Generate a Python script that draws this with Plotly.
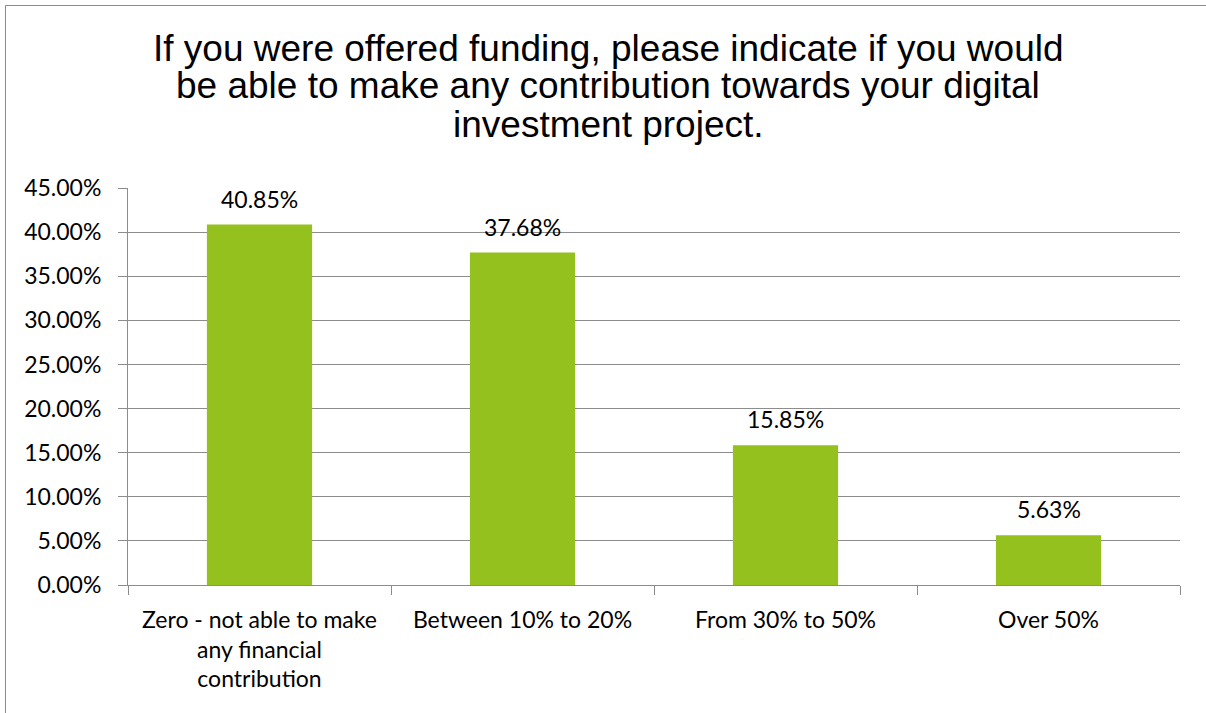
import plotly.graph_objects as go

# Survey responses: share of respondents per contribution level
categories = [
    "Zero - not able to make<br>any financial<br>contribution",
    "Between 10% to 20%",
    "From 30% to 50%",
    "Over 50%",
]
shares = [40.85, 37.68, 15.85, 5.63]
y_ticks = [0, 5, 10, 15, 20, 25, 30, 35, 40, 45]
title_lines = [
    "If you were offered funding, please indicate if you would",
    "be able to make any contribution towards your digital",
    "investment project.",
]

W, H = 1206, 713
L, R, T, B = 128, 26, 188, 128
PW, PH = W - L - R, H - T - B

BAR = "#95C11F"
GRID = "#8c8c8c"
LABEL_FONT = dict(family="Lato, Carlito, Calibri, sans-serif", size=23, color="#000000")


def px_to_paper_x(px):
    return (px - L) / PW


def px_to_paper_y(py):
    return (H - B - py) / PH


fig = go.Figure(
    go.Bar(
        x=categories,
        y=shares,
        marker=dict(color=BAR, line=dict(width=0)),
        hoverinfo="x+y",
    )
)

# value labels above each bar
annotations = []
for cat, v in zip(categories, shares):
    annotations.append(
        dict(
            x=cat, y=v, xref="x", yref="y",
            text=f"{v:.2f}%",
            showarrow=False,
            yanchor="bottom",
            yshift=10,
            font=LABEL_FONT,
        )
    )

# three-line chart title with tight line spacing
title_centers = [48, 86, 124]
for line, cy in zip(title_lines, title_centers):
    annotations.append(
        dict(
            x=px_to_paper_x(608), y=px_to_paper_y(cy),
            xref="paper", yref="paper",
            text=line,
            showarrow=False,
            xanchor="center", yanchor="middle",
            font=dict(family="Liberation Sans, Arial, sans-serif", size=37, color="#000000"),
        )
    )

# chart-area border
shapes = [
    dict(
        type="rect", xref="paper", yref="paper",
        x0=px_to_paper_x(5.5), x1=px_to_paper_x(1215),
        y0=px_to_paper_y(725), y1=px_to_paper_y(5.5),
        line=dict(color=GRID, width=1),
        fillcolor="rgba(0,0,0,0)",
        layer="below",
    )
]

fig.update_layout(
    width=W, height=H,
    margin=dict(l=L, r=R, t=T, b=B, pad=0),
    paper_bgcolor="#ffffff",
    plot_bgcolor="#ffffff",
    bargap=0.6,
    showlegend=False,
    annotations=annotations,
    shapes=shapes,
)

fig.update_xaxes(
    type="category",
    tickson="boundaries",
    ticks="outside",
    ticklen=9,
    tickcolor=GRID,
    showline=True,
    linecolor=GRID,
    linewidth=1,
    showgrid=False,
    tickfont=LABEL_FONT,
    ticklabelstandoff=14,
)

fig.update_yaxes(
    range=[0, 45],
    tickvals=y_ticks,
    ticktext=[f"{t:.2f}%" for t in y_ticks],
    ticks="outside",
    ticklen=9,
    tickcolor=GRID,
    showline=True,
    linecolor=GRID,
    linewidth=1,
    showgrid=True,
    gridcolor=GRID,
    gridwidth=1,
    zeroline=False,
    tickfont=LABEL_FONT,
    ticklabelstandoff=12,
)

fig.write_html("out.html")
